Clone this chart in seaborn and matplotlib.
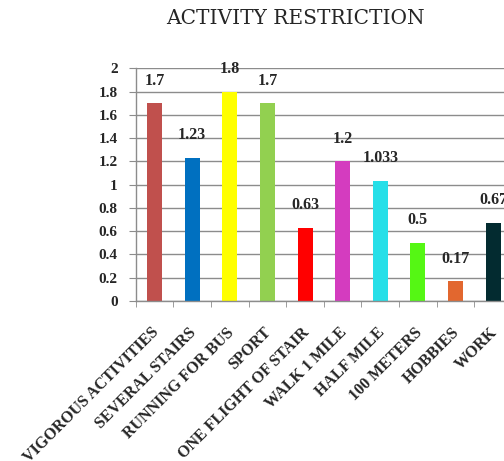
import numpy as np
import pandas as pd
import matplotlib
matplotlib.use("Agg")
import matplotlib.pyplot as plt
import matplotlib.transforms as mtransforms
import seaborn as sns
from matplotlib.ticker import FixedLocator

# Data
activities = ["VIGOROUS ACTIVITIES", "SEVERAL STAIRS", "RUNNING FOR BUS", "SPORT",
              "ONE FLIGHT OF STAIR", "WALK 1 MILE", "HALF MILE", "100 METERS",
              "HOBBIES", "WORK"]
scores = [1.7, 1.23, 1.8, 1.7, 0.63, 1.2, 1.033, 0.5, 0.17, 0.67]
value_labels = ["1.7", "1.23", "1.8", "1.7", "0.63", "1.2", "1.033", "0.5", "0.17", "0.67"]
bar_colors = ["#C0504D", "#0070C0", "#FFFF00", "#92D050", "#FF0000",
              "#D43CBF", "#26DFE8", "#55F714", "#E2672F", "#032B30"]
y_ticks = [0, 0.2, 0.4, 0.6, 0.8, 1, 1.2, 1.4, 1.6, 1.8, 2]
y_tick_labels = ["0", "0.2", "0.4", "0.6", "0.8", "1", "1.2", "1.4", "1.6", "1.8", "2"]

df = pd.DataFrame({"activity": activities, "score": scores})

sns.set_style("white")
plt.rcParams["font.family"] = ["Liberation Serif", "DejaVu Serif"]

fig = plt.figure(figsize=(5.04, 4.61), dpi=100)
W, H = 504, 461
left, right, top, bottom = 135.7, 512.0, 68.3, 301.0
ax = fig.add_axes([left / W, 1 - bottom / H, (right - left) / W, (bottom - top) / H])

sns.barplot(data=df, x="activity", y="score", hue="activity",
            palette=bar_colors, width=0.4, legend=False, ax=ax,
            saturation=1, edgecolor="none")

ax.set_ylim(0, 2)
ax.set_xlim(-0.5, len(activities) - 0.5)

# Horizontal gridlines
ax.set_axisbelow(True)
ax.yaxis.grid(True, color="#8c8c8c", linewidth=1.0)
ax.xaxis.grid(False)

for s in ["top", "right"]:
    ax.spines[s].set_visible(False)
for s in ["left", "bottom"]:
    ax.spines[s].set_color("#8c8c8c")
    ax.spines[s].set_linewidth(1.0)

ax.set_yticks(y_ticks)
ax.set_yticklabels(y_tick_labels, fontsize=11, fontweight="bold")
ax.tick_params(axis="y", length=5, color="#8c8c8c", pad=8, left=True)

# Category labels at bar centres, tick marks at category boundaries
ax.set_xticks(range(len(activities)))
ax.set_xticklabels(activities, rotation=45, ha="right", rotation_mode="anchor",
                   fontsize=11.5, fontweight="bold")
ax.tick_params(axis="x", length=0, pad=17)
shift = mtransforms.ScaledTranslation(-4 / 100, 0, fig.dpi_scale_trans)
for lbl in ax.get_xticklabels():
    lbl.set_transform(lbl.get_transform() + shift)
ax.xaxis.set_minor_locator(FixedLocator(np.arange(-0.5, len(activities), 1.0)))
ax.tick_params(axis="x", which="minor", length=4, color="#8c8c8c", bottom=True)

ax.set_xlabel("")
ax.set_ylabel("")

# Value labels above bars
for i, (v, lab) in enumerate(zip(scores, value_labels)):
    ax.annotate(lab, (i, v), xytext=(0, 10.5), textcoords="offset points",
                ha="center", va="bottom", fontsize=11.5, fontweight="bold",
                annotation_clip=False)

fig.text(295 / W, 1 - 18 / H, "ACTIVITY RESTRICTION", ha="center", va="center",
         fontsize=14.5, family=["DejaVu Serif"])

fig.savefig("out.png", dpi=100)
